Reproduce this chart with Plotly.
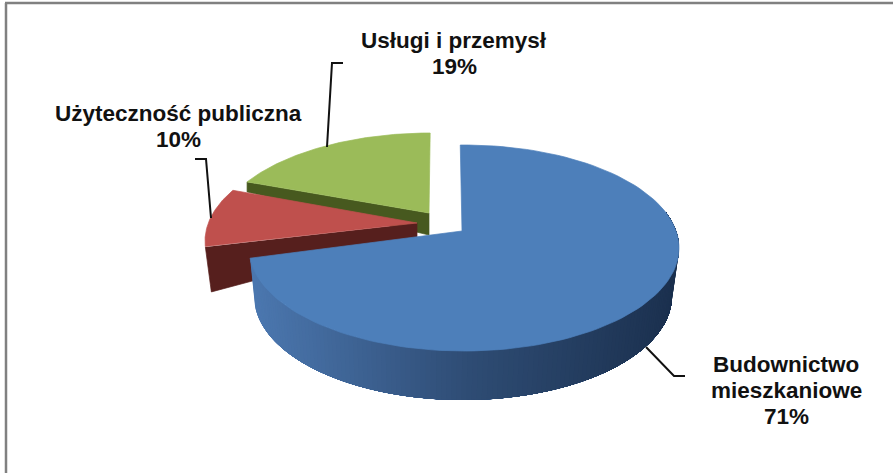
import numpy as np
import plotly.graph_objects as go

category_lines = [["Budownictwo", "mieszkaniowe"], ["Użyteczność publiczna"], ["Usługi i przemysł"]]
values = [71, 10, 19]
top_colors = ["#4d7fba", "#bf504d", "#9bbb59"]
side_colors = ["#2f4d75", "#561f1d", "#47591f"]

# Projection of each exploded slice onto the picture (Excel-style 3D perspective)
centers = [(464, 248), (420, 241), (430, 236)]
apexes = [(462, 231), (417, 223), (429, 213)]
starts = [-1.0, 266.7, 301.7]
sweep_scales = [1.038, 0.911, 0.853]
RX, RY = 215, 103

label_x = [786, 178, 454]
label_y = [[364, 390, 416], [113, 139], [40, 66]]
leaders = [
    ([646, 674, 685], [347, 376, 376]),
    ([195, 206, 211], [159, 159, 218]),
    ([343, 332, 327], [63, 63, 147]),
]


def arc(center, t_deg, rx=RX, ry=RY):
    t = np.radians(t_deg)
    return center[0] + rx * np.sin(t), center[1] - ry * np.cos(t)


def poly(fig, xs, ys, color, width=0.7):
    fig.add_trace(go.Scatter(
        x=list(xs), y=list(ys), mode="lines", fill="toself", fillcolor=color,
        line=dict(color=color, width=width), hoverinfo="skip", showlegend=False))


fig = go.Figure()
sweeps = [v * 3.6 * s for v, s in zip(values, sweep_scales)]


def top_face(i):
    ts = np.linspace(starts[i], starts[i] + sweeps[i], 120)
    x, y = arc(centers[i], ts)
    poly(fig, [apexes[i][0], *x, apexes[i][0]], [apexes[i][1], *y, apexes[i][1]], top_colors[i])


# green: thin front wall along its cut edge, then the top
gx, gy = arc(centers[2], starts[2])
poly(fig, [gx, gx, apexes[2][0], apexes[2][0]],
     [gy, gy + 10, apexes[2][1] + 22, apexes[2][1]], side_colors[2])
top_face(2)

# red: front wall
rx0, ry0 = arc(centers[1], starts[1])
poly(fig, [rx0, rx0 + 6, apexes[1][0], apexes[1][0]],
     [ry0, ry0 + 45, apexes[1][1] + 14, apexes[1][1]], side_colors[1])
top_face(1)

# blue: outer wall with a left-to-right shading, each band running under the next
lower = (463, 296)
low_rx, low_ry = 209, 104
end = 70
edges = np.linspace(starts[0] + sweeps[0], end, 140)
light = np.array([0x4c, 0x78, 0xb0])
mid = np.array([0x2f, 0x4d, 0x75])
dark = np.array([0x1b, 0x30, 0x4e])
for a in edges[:-1]:
    ts = np.linspace(a, end, 100)
    xa, ya = arc(centers[0], ts)
    xd, yd = arc(lower, ts, low_rx, low_ry)
    f = min(max((arc(centers[0], a)[0] - 250) / 430, 0), 1)
    c = light + (mid - light) * f / 0.5 if f < 0.5 else mid + (dark - mid) * (f - 0.5) / 0.5
    col = "rgb(%d,%d,%d)" % tuple(c)
    poly(fig, [*xa, *xd[::-1]], [*ya, *yd[::-1]], col, width=0)
top_face(0)

for lx, ly in leaders:
    fig.add_trace(go.Scatter(x=lx, y=ly, mode="lines", line=dict(color="#111111", width=2),
                             hoverinfo="skip", showlegend=False))

for lines, val, x, ys in zip(category_lines, values, label_x, label_y):
    for text, y in zip([*lines, f"{val}%"], ys):
        fig.add_annotation(x=x, y=y, text=f"<b>{text}</b>", showarrow=False,
                           font=dict(family="Liberation Sans", size=22.5, color="#111111"),
                           xanchor="center", yanchor="middle", align="center")

fig.add_shape(type="line", x0=6, y0=473, x1=6, y1=3, line=dict(color="#808080", width=2.5), layer="below")
fig.add_shape(type="line", x0=5, y0=3, x1=893, y1=3, line=dict(color="#808080", width=2.5), layer="below")

fig.update_xaxes(range=[0, 893], visible=False, fixedrange=True)
fig.update_yaxes(range=[473, 0], visible=False, fixedrange=True)
fig.update_layout(width=893, height=473, margin=dict(l=0, r=0, t=0, b=0),
                  paper_bgcolor="white", plot_bgcolor="white", showlegend=False)
fig.write_html("out.html", config={"displayModeBar": False},
               post_script="document.body.style.margin='0';document.documentElement.style.overflow='hidden';")
